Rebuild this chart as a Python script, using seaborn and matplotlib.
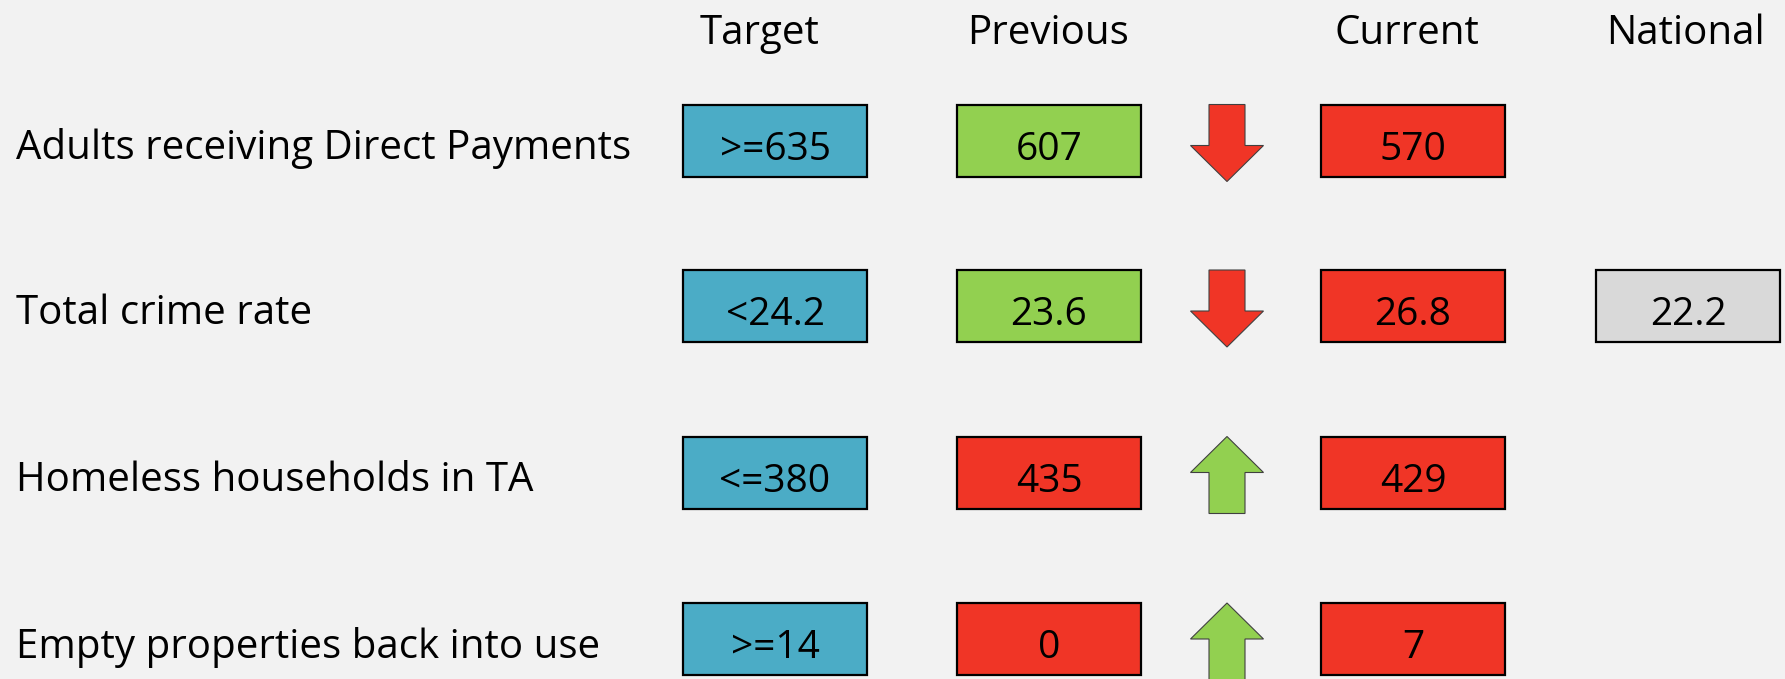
import matplotlib
matplotlib.use("Agg")
import matplotlib.pyplot as plt
import seaborn as sns
import numpy as np

# --- DATA ---
metrics = ["Adults receiving Direct Payments", "Total crime rate",
           "Homeless households in TA", "Empty properties back into use"]
targets = [">=635", "<24.2", "<=380", ">=14"]
previous = ["607", "23.6", "435", "0"]
current = ["570", "26.8", "429", "7"]
national = [None, "22.2", None, None]
previous_status = ["good", "good", "bad", "bad"]
current_status = ["bad", "bad", "bad", "bad"]
trend = ["down", "down", "up", "up"]
headers = ["Target", "Previous", "Current", "National"]

# --- STYLE / LAYOUT ---
BG = "#f2f2f2"
COLORS = {"target": "#4bacc6", "good": "#92d050", "bad": "#f03526", "national": "#d9d9d9"}
TREND_COLORS = {"down": "#f03526", "up": "#92d050"}
W, H = 1785, 679
COL_X = {"Target": 775, "Previous": 1049, "Arrow": 1227, "Current": 1413, "National": 1688}
HEADER_X = {"Target": 760, "Previous": 1048, "Current": 1407, "National": 1685}
ROW_Y = [140.5, 306, 472.5, 639]
BOX_W, BOX_H = 184, 72
ARROW_LEN, HEAD_LEN, HEAD_W, SHAFT_W = 77, 36, 73, 36
LABEL_SIZE = 29
BOX_SIZE = 28

sns.set_theme(style="white", rc={"axes.facecolor": BG, "figure.facecolor": BG})
plt.rcParams["font.family"] = ["Open Sans", "DejaVu Sans"]

fig = plt.figure(figsize=(W / 100, H / 100), dpi=100)
ax = fig.add_axes([0, 0, 1, 1])
ax.set_xlim(0, W)
ax.set_ylim(H, 0)
ax.axis("off")

# column headers
for name in headers:
    ax.text(HEADER_X[name], 34, name, ha="center", va="center", fontsize=LABEL_SIZE, color="black")


def draw_boxes(col, labels, fills):
    xs, ys, cols, labs = [], [], [], []
    for y, lab, fill in zip(ROW_Y, labels, fills):
        if lab is None:
            continue
        xs.append(COL_X[col]); ys.append(y); cols.append(fill); labs.append(lab)
    ys = np.array(ys)
    ax.bar(xs, BOX_H, width=BOX_W, bottom=ys - BOX_H / 2, color=cols,
           edgecolor="black", linewidth=1.6, zorder=2)
    for x, y, lab in zip(xs, ys, labs):
        ax.text(x, y + 9, lab, ha="center", va="center", fontsize=BOX_SIZE, color="black", zorder=3)


for y, m in zip(ROW_Y, metrics):
    ax.text(16, y + 8, m, ha="left", va="center", fontsize=LABEL_SIZE, color="black")

draw_boxes("Target", targets, [COLORS["target"]] * len(targets))
draw_boxes("Previous", previous, [COLORS[s] for s in previous_status])
draw_boxes("Current", current, [COLORS[s] for s in current_status])
draw_boxes("National", national, [COLORS["national"]] * len(national))

# trend arrows
for y, t in zip(ROW_Y, trend):
    top = y - BOX_H / 2
    if t == "down":
        start, dy = top, ARROW_LEN
    else:
        start, dy = top + ARROW_LEN, -ARROW_LEN
    ax.arrow(COL_X["Arrow"], start, 0, dy, width=SHAFT_W, head_width=HEAD_W,
             head_length=HEAD_LEN, length_includes_head=True,
             facecolor=TREND_COLORS[t], edgecolor="#404040", linewidth=0.8, zorder=2)

fig.savefig("out.png", dpi=100, facecolor=BG)
